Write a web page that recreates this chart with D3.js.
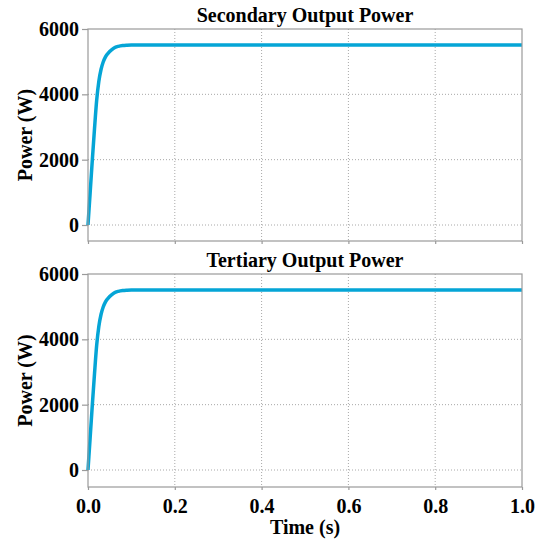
<!DOCTYPE html>
<html>
<head>
<meta charset="utf-8">
<script src="https://cdn.jsdelivr.net/npm/d3@7"></script>
<style>
	body { margin: 0; background: #fff; }
	svg text { font-family: "Liberation Serif", "Times New Roman", serif !important; font-weight: bold; fill: #000; }
	.frame { fill: none; stroke: #9a9a9a; stroke-width: 1.2; }
	.tick line { stroke: #9a9a9a; stroke-width: 1.2; }
	.grid line { stroke: #a8a8a8; stroke-width: 1; stroke-dasharray: 1,2; }
	.line { fill: none; stroke: #05a5d6; stroke-width: 3.5; stroke-linejoin: round; }
</style>
</head>
<body>
<div id="chart"></div>
<script>
// sample times (s)
var timeS = [0, 0.005, 0.01, 0.015, 0.02, 0.025, 0.03, 0.035, 0.04, 0.05,
	0.06, 0.07, 0.08, 0.09, 0.1, 0.15, 0.2, 0.25, 0.3, 0.35, 0.4, 0.45, 0.5,
	0.55, 0.6, 0.65, 0.7, 0.75, 0.8, 0.85, 0.9, 0.95, 1.0];

// secondary output power (W)
var secondaryW = [0, 1000, 2000, 2950, 3820, 4400, 4760, 4990, 5140, 5310,
	5420, 5470, 5495, 5505, 5510, 5512, 5508, 5514, 5509, 5513, 5508, 5512, 5510,
	5514, 5509, 5512, 5508, 5513, 5510, 5512, 5508, 5513, 5510];

// tertiary output power (W)
var tertiaryW = [0, 1000, 2000, 2950, 3820, 4400, 4760, 4990, 5140, 5310,
	5420, 5470, 5495, 5505, 5510, 5513, 5509, 5512, 5508, 5514, 5510, 5509, 5513,
	5508, 5512, 5510, 5514, 5509, 5512, 5508, 5513, 5510, 5511];

var panelTitles = ["Secondary Output Power", "Tertiary Output Power"];
var xTicks = [0, 0.2, 0.4, 0.6, 0.8, 1.0];
var yTicks = [0, 2000, 4000, 6000];

var outerWidth = 539, outerHeight = 543;
var left = 88, right = 522;
var panels = [
	{title: panelTitles[0], values: secondaryW, top: 29, zero: 225, bottom: 241},
	{title: panelTitles[1], values: tertiaryW, top: 274, zero: 470, bottom: 487}
];

var svg = d3.select("#chart").append("svg")
	.attr("width", outerWidth)
	.attr("height", outerHeight);

var xScale = d3.scaleLinear().domain([0, 1]).range([left, right]);

panels.forEach(function(p, idx) {
	var yScale = d3.scaleLinear().domain([0, 6000]).range([p.zero, p.top]);
	var g = svg.append("g");

	// dotted grid lines
	var grid = g.append("g").attr("class", "grid");
	grid.selectAll(".gx")
		.data(xTicks.slice(1, -1))
		.join("line")
		.attr("class", "gx")
		.attr("x1", d => xScale(d)).attr("x2", d => xScale(d))
		.attr("y1", p.top).attr("y2", p.bottom);
	grid.selectAll(".gy")
		.data(yTicks.slice(0, -1))
		.join("line")
		.attr("class", "gy")
		.attr("x1", left).attr("x2", right)
		.attr("y1", d => yScale(d)).attr("y2", d => yScale(d));

	// y axis: short outward ticks + labels
	var yAxis = d3.axisLeft(yScale)
		.tickValues(yTicks)
		.tickSize(6)
		.tickPadding(3)
		.tickFormat(d3.format("d"));
	var ga = g.append("g")
		.attr("transform", "translate(" + left + ",0)")
		.call(yAxis);
	ga.select(".domain").remove();
	ga.selectAll("text")
		.style("font-size", "20px")
		.attr("dy", "0.33em");

	// data line
	var line = d3.line()
		.x((d, i) => xScale(timeS[i]))
		.y(d => yScale(d))
		.curve(d3.curveMonotoneX);
	g.append("path")
		.attr("class", "line")
		.attr("d", line(p.values));

	// x axis ticks below the frame (labels only on the last panel)
	var last = idx === panels.length - 1;
	var xAxis = d3.axisBottom(xScale)
		.tickValues(xTicks)
		.tickSize(3)
		.tickPadding(9)
		.tickFormat(last ? d3.format(".1f") : "");
	var gx = g.append("g")
		.attr("transform", "translate(0," + p.bottom + ")")
		.call(xAxis);
	gx.select(".domain").remove();
	gx.selectAll("text").style("font-size", "20px");

	// frame
	g.append("rect")
		.attr("class", "frame")
		.attr("x", left).attr("y", p.top)
		.attr("width", right - left)
		.attr("height", p.bottom - p.top);

	// panel title
	g.append("text")
		.attr("x", (left + right) / 2)
		.attr("y", p.top - 7)
		.attr("text-anchor", "middle")
		.style("font-size", "20px")
		.text(p.title);

	// vertical axis label
	g.append("text")
		.attr("text-anchor", "middle")
		.attr("transform", "translate(32," + ((p.top + p.bottom) / 2) + ") rotate(270)")
		.style("font-size", "20px")
		.text("Power (W)");

	if (last) {
		g.append("text")
			.attr("x", (left + right) / 2)
			.attr("y", 534)
			.attr("text-anchor", "middle")
			.style("font-size", "20px")
			.text("Time (s)");
	}
});
</script>
</body>
</html>
